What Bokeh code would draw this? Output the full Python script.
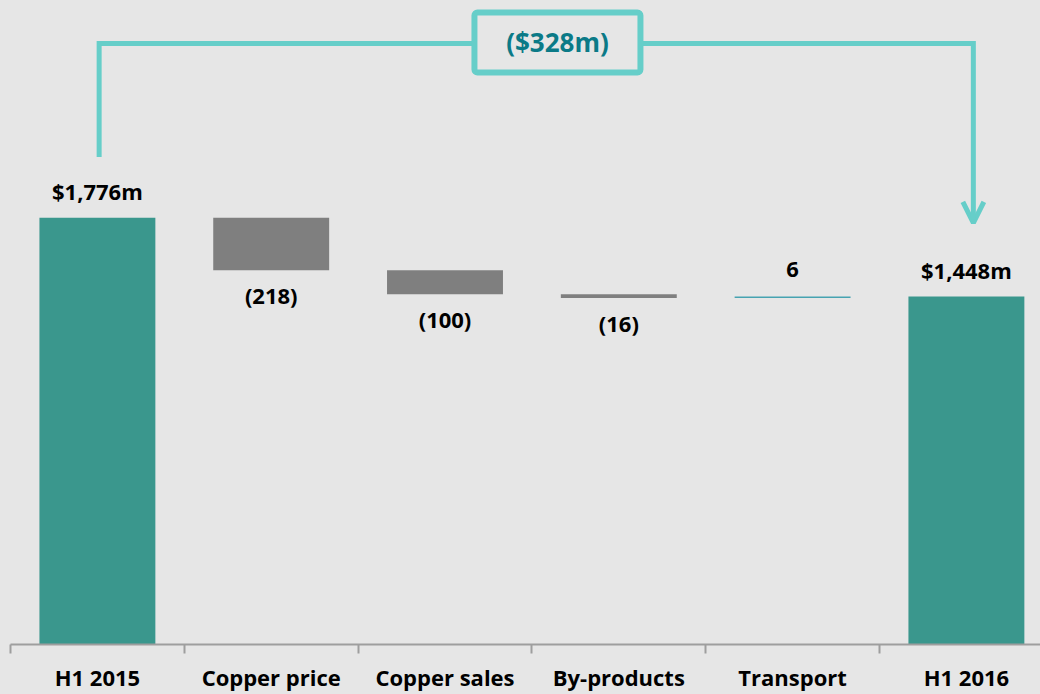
from bokeh.plotting import figure
from bokeh.models import FixedTicker, ColumnDataSource, Arrow, OpenHead
from bokeh.core.properties import value
from bokeh.embed import file_html
from bokeh.resources import INLINE

categories = ["H1 2015", "Copper price", "Copper sales", "By-products", "Transport", "H1 2016"]
start_value = 1776
deltas = [-218, -100, -16, 6]
end_value = 1448

BG = "#e6e6e6"
TEAL = "#3a978d"
GRAY = "#7f7f7f"
POS = "#47a3b1"
BRACKET = "#66cec9"
BOXTXT = "#0b7a87"
FONT = "Open Sans"

# waterfall geometry from data
bottoms, tops, colors, labels = [], [], [], []
bottoms.append(0); tops.append(start_value); colors.append(TEAL); labels.append(f"${start_value:,}m")
level = start_value
for d in deltas:
    new = level + d
    bottoms.append(min(level, new)); tops.append(max(level, new))
    colors.append(GRAY if d < 0 else POS)
    labels.append(f"({abs(d)})" if d < 0 else f"{d}")
    level = new
bottoms.append(0); tops.append(end_value); colors.append(TEAL); labels.append(f"${end_value:,}m")

xs = list(range(len(categories)))
src = ColumnDataSource(dict(x=xs, bottom=bottoms, top=tops, color=colors))

px_per_unit = 0.241
W, H = 1040, 694
left_b, bottom_b = 10, 48
frame_h = H - bottom_b
cat_px = 173.8
p = figure(width=W, height=H, x_range=(-0.5, -0.5 + (W - left_b) / cat_px),
           y_range=(0, frame_h / px_per_unit), y_axis_type=None,
           output_backend="svg", toolbar_location=None,
           min_border_left=left_b, min_border_right=0, min_border_top=0, min_border_bottom=bottom_b,
           background_fill_color=BG, border_fill_color=BG, outline_line_color=None)
p.grid.visible = False

p.vbar(x="x", bottom="bottom", top="top", width=0.667, fill_color="color",
       line_color=None, source=src)

# value labels
pos_idx = [i for i in xs if i in (0, len(xs) - 1) or (0 < i < len(xs) - 1 and deltas[i - 1] > 0)]
neg_idx = [i for i in xs if i not in pos_idx]
p.text(x=[xs[i] for i in pos_idx], y=[tops[i] for i in pos_idx], text=[labels[i] for i in pos_idx],
       text_align="center", text_baseline="middle", y_offset=-27,
       text_font=value(FONT), text_font_style="bold", text_font_size="22px", text_color="#000000")
p.text(x=[xs[i] for i in neg_idx], y=[bottoms[i] for i in neg_idx], text=[labels[i] for i in neg_idx],
       text_align="center", text_baseline="middle", y_offset=25,
       text_font=value(FONT), text_font_style="bold", text_font_size="22px", text_color="#000000")

# bracket showing total change
diff = end_value - start_value
diff_label = f"(${abs(diff)}m)" if diff < 0 else f"${diff}m"
bx_left = xs[0] + 0.01
bx_right = xs[-1] + 0.04
by_top = 2502
box_x = 2.647
box_half = 83 / cat_px
p.line(x=[bx_left, bx_left, box_x - box_half], y=[2029, by_top, by_top],
       line_color=BRACKET, line_width=5, line_join="miter")
p.line(x=[box_x + box_half, bx_right], y=[by_top, by_top], line_color=BRACKET, line_width=5)
p.add_layout(Arrow(end=OpenHead(size=21, line_color=BRACKET, line_width=5),
                   x_start=bx_right, y_start=by_top + 10, x_end=bx_right, y_end=1755,
                   line_color=BRACKET, line_width=5))
p.rect(x=[box_x], y=[2506], width=166, height=60, width_units="screen", height_units="screen",
       fill_color=BG, line_color=BRACKET, line_width=6, border_radius=3)
p.text(x=[box_x], y=[2506], text=[diff_label], text_align="center", text_baseline="middle",
       text_font=value(FONT), text_font_style="bold", text_font_size="26px", text_color=BOXTXT)

# x axis
ax = p.xaxis[0]
ax.ticker = FixedTicker(ticks=xs, minor_ticks=[i - 0.5 for i in range(len(xs) + 1)])
ax.major_label_overrides = {i: c for i, c in zip(xs, categories)}
ax.major_tick_line_color = None
ax.major_tick_out = 0
ax.major_tick_in = 0
ax.minor_tick_in = 0
ax.minor_tick_out = 9
ax.minor_tick_line_color = "#9e9e9e"
ax.minor_tick_line_width = 2
ax.axis_line_color = "#9e9e9e"
ax.axis_line_width = 2
ax.major_label_standoff = 8
ax.major_label_text_font = FONT
ax.major_label_text_font_style = "bold"
ax.major_label_text_font_size = "22px"
ax.major_label_text_color = "#000000"

html = file_html(p, INLINE)
html = html.replace("<head>", "<head><style>body{background:%s;}</style>" % BG, 1)
open("out.html", "w").write(html)
